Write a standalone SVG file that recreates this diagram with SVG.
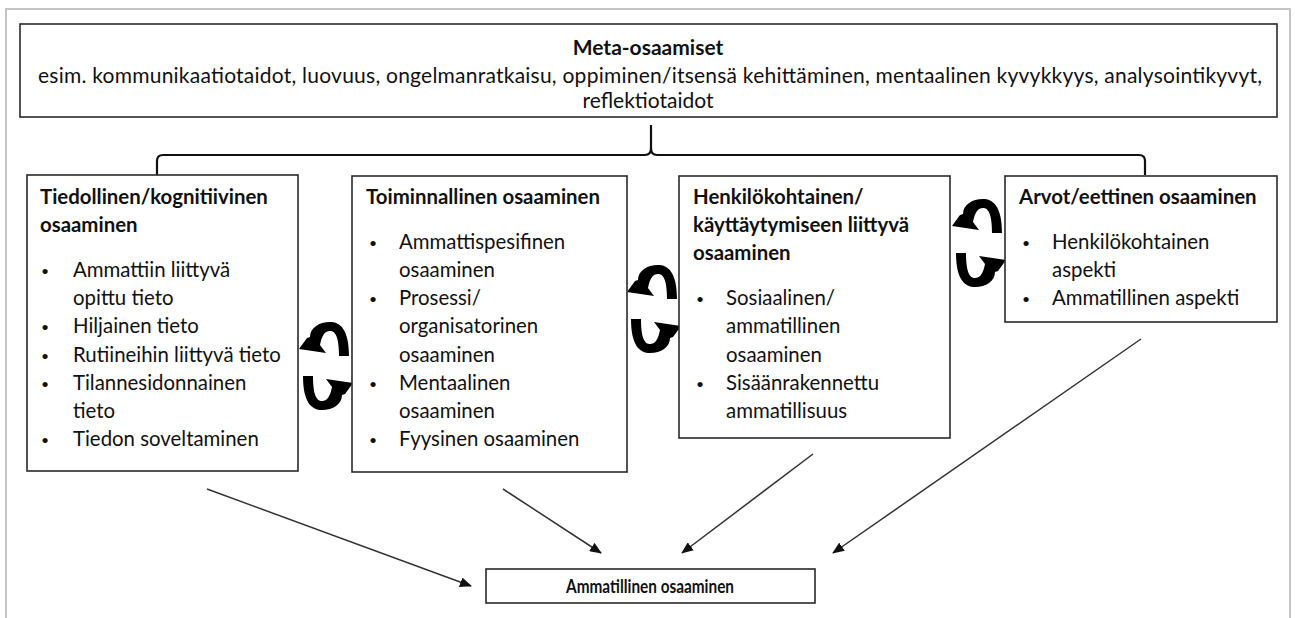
<svg xmlns="http://www.w3.org/2000/svg" width="1295" height="618" viewBox="0 0 1295 618">
  <style>
    .frame { fill: none; stroke: #c4c4c4; stroke-width: 2; }
    .box { fill: #ffffff; stroke: #2a2a2a; stroke-width: 1.6; }
    .t { font-family: Lato, "Open Sans", sans-serif; font-size: 20.4px; fill: #111; }
    .m { font-size: 21px; }
    .dot { font-size: 14px; }
    .b { font-weight: bold; }
    .mid { text-anchor: middle; }
    .edge { stroke: #333; stroke-width: 1.5; fill: none; }
    .brace { stroke: #111; stroke-width: 2.2; fill: none; }
    .cyc { fill: #000; }
  </style>
  <defs>
    <marker id="head" viewBox="0 0 12 10" refX="11" refY="5" markerWidth="12" markerHeight="10" markerUnits="userSpaceOnUse" orient="auto">
      <path d="M0,0 L12,5 L0,10 Z" fill="#111"/>
    </marker>
    <!-- pair of curved arrows: top one turns back to the left, bottom one to the right -->
    <path id="bend" class="cyc" d="M50,34 C50,7 41,0 31,0 C20,0 11,6 11,15 L8,16 L0,27 L27,31 L21,23 C23,13 26,9 31,9 C36,9 40,14 40,34 Z"/>
    <g id="cycle">
      <use href="#bend"/>
      <use href="#bend" transform="rotate(180 27 44)"/>
    </g>
  </defs>

  <rect class="frame" x="6" y="9" width="1284" height="640"/>

  <g id="meta">
    <rect class="box" x="20" y="24" width="1257" height="93"/>
    <text class="t m b mid" x="648" y="55">Meta-osaamiset</text>
    <text class="t m mid" x="650" y="83" textLength="1224" lengthAdjust="spacing">esim. kommunikaatiotaidot, luovuus, ongelmanratkaisu, oppiminen/itsensä kehittäminen, mentaalinen kyvykkyys, analysointikyvyt,</text>
    <text class="t m mid" x="648" y="108">reflektiotaidot</text>
  </g>

  <g id="connectors">
    <!-- brace from the meta box to the four areas -->
    <path class="brace" d="M651,125 L651,148 Q651,155 645,155 L163,155 Q157,155 157,161 L157,175"/>
    <path class="brace" d="M651,148 Q651,155 657,155 L1139,155 Q1145,155 1145,161 L1145,175"/>
    <line class="edge" x1="207" y1="489" x2="471" y2="586" marker-end="url(#head)"/>
    <line class="edge" x1="503" y1="489" x2="601" y2="553" marker-end="url(#head)"/>
    <line class="edge" x1="813" y1="454" x2="682" y2="553" marker-end="url(#head)"/>
    <line class="edge" x1="1141" y1="339" x2="833" y2="553" marker-end="url(#head)"/>
    <use href="#cycle" transform="translate(299,322)"/>
    <use href="#cycle" transform="translate(627,265)"/>
    <use href="#cycle" transform="translate(952,199)"/>
  </g>

  <g id="tiedollinen">
    <rect class="box" x="27" y="175" width="271" height="296"/>
    <text class="t b" x="40" y="204">Tiedollinen/kognitiivinen</text>
    <text class="t b" x="40" y="232">osaaminen</text>
    <text class="t dot" x="41" y="276">•</text><text class="t" x="73" y="277">Ammattiin liittyvä</text>
    <text class="t" x="73" y="305">opittu tieto</text>
    <text class="t dot" x="41" y="332">•</text><text class="t" x="73" y="333">Hiljainen tieto</text>
    <text class="t dot" x="41" y="361">•</text><text class="t" x="73" y="362">Rutiineihin liittyvä tieto</text>
    <text class="t dot" x="41" y="389">•</text><text class="t" x="73" y="390">Tilannesidonnainen</text>
    <text class="t" x="73" y="418">tieto</text>
    <text class="t dot" x="41" y="445">•</text><text class="t" x="73" y="446">Tiedon soveltaminen</text>
  </g>

  <g id="toiminnallinen">
    <rect class="box" x="352" y="176" width="275" height="296"/>
    <text class="t b" x="366" y="204">Toiminnallinen osaaminen</text>
    <text class="t dot" x="369" y="248">•</text><text class="t" x="399" y="249">Ammattispesifinen</text>
    <text class="t" x="399" y="277">osaaminen</text>
    <text class="t dot" x="369" y="304">•</text><text class="t" x="399" y="305">Prosessi/</text>
    <text class="t" x="399" y="333">organisatorinen</text>
    <text class="t" x="399" y="362">osaaminen</text>
    <text class="t dot" x="369" y="389">•</text><text class="t" x="399" y="390">Mentaalinen</text>
    <text class="t" x="399" y="418">osaaminen</text>
    <text class="t dot" x="369" y="445">•</text><text class="t" x="399" y="446">Fyysinen osaaminen</text>
  </g>

  <g id="henkilokohtainen">
    <rect class="box" x="679" y="176" width="271" height="262"/>
    <text class="t b" x="693" y="204">Henkilökohtainen/</text>
    <text class="t b" x="693" y="232">käyttäytymiseen liittyvä</text>
    <text class="t b" x="693" y="260">osaaminen</text>
    <text class="t dot" x="696" y="304">•</text><text class="t" x="726" y="305">Sosiaalinen/</text>
    <text class="t" x="726" y="333">ammatillinen</text>
    <text class="t" x="726" y="362">osaaminen</text>
    <text class="t dot" x="696" y="389">•</text><text class="t" x="726" y="390">Sisäänrakennettu</text>
    <text class="t" x="726" y="418">ammatillisuus</text>
  </g>

  <g id="arvot">
    <rect class="box" x="1005" y="176" width="272" height="146"/>
    <text class="t b" x="1019" y="204">Arvot/eettinen osaaminen</text>
    <text class="t dot" x="1022" y="248">•</text><text class="t" x="1052" y="249">Henkilökohtainen</text>
    <text class="t" x="1052" y="277">aspekti</text>
    <text class="t dot" x="1022" y="304">•</text><text class="t" x="1052" y="305">Ammatillinen aspekti</text>
  </g>

  <g id="ammatillinen">
    <rect class="box" x="486" y="569" width="329" height="34"/>
    <text class="t b mid" x="650" y="593" style="font-size:18.5px" textLength="168" lengthAdjust="spacingAndGlyphs">Ammatillinen osaaminen</text>
  </g>
</svg>
